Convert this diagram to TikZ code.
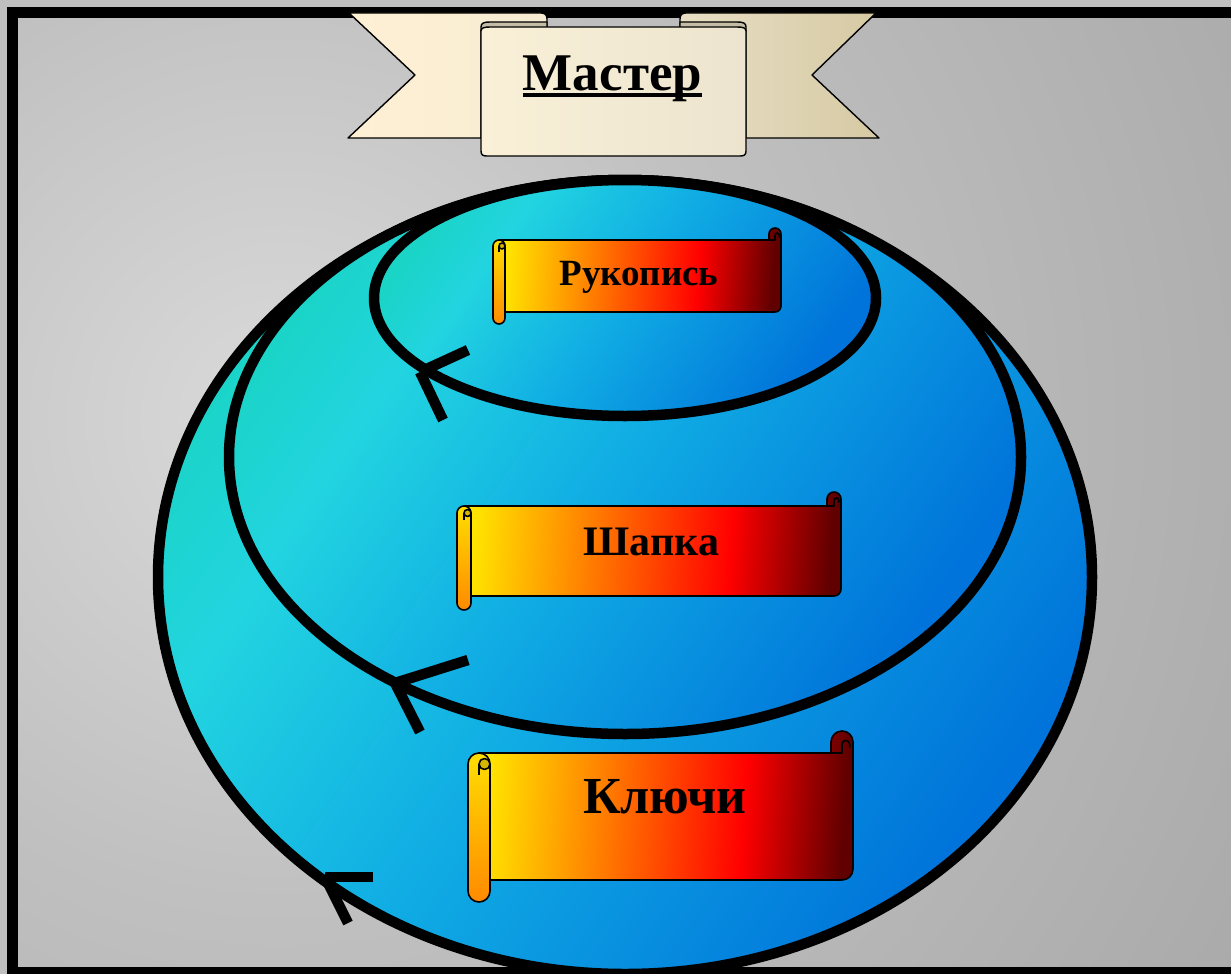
\documentclass[tikz,border=0pt]{standalone}
\usepackage{fontspec}
\setmainfont{Liberation Serif}
\usetikzlibrary{calc}

\definecolor{outgray}{RGB}{191,191,191}
\definecolor{bgA}{RGB}{218,218,218}
\definecolor{bgB}{RGB}{192,192,192}
\definecolor{bgC}{RGB}{170,170,170}
\definecolor{seaA}{RGB}{26,212,198}
\definecolor{seaB}{RGB}{34,212,224}
\definecolor{seaC}{RGB}{16,172,228}
\definecolor{seaD}{RGB}{0,116,218}
\definecolor{fireA}{RGB}{255,228,0}
\definecolor{fireB}{RGB}{255,140,0}
\definecolor{fireC}{RGB}{255,0,0}
\definecolor{fireD}{RGB}{96,0,0}
\definecolor{rollTop}{RGB}{255,222,0}
\definecolor{rollBot}{RGB}{255,138,0}
\definecolor{rollIn}{RGB}{212,184,0}
\definecolor{creamA}{RGB}{255,240,212}
\definecolor{creamB}{RGB}{246,236,210}
\definecolor{creamC}{RGB}{250,240,216}
\definecolor{creamD}{RGB}{236,228,206}
\definecolor{creamE}{RGB}{232,222,196}
\definecolor{creamF}{RGB}{214,202,164}
\definecolor{rollTan}{RGB}{196,188,166}

\pgfdeclareradialshading{bgrad}{\pgfpoint{0bp}{0bp}}{color(0bp)=(bgA); color(10.5bp)=(bgB); color(24bp)=(bgC); color(50bp)=(bgC)}
\pgfdeclarehorizontalshading{seashade}{100bp}{color(0bp)=(seaA); color(24bp)=(seaA); color(33bp)=(seaB); color(50bp)=(seaC); color(74bp)=(seaD); color(100bp)=(seaD)}
\pgfdeclarehorizontalshading{fireshade}{100bp}{color(0bp)=(fireA); color(25bp)=(fireA); color(39bp)=(fireB); color(61bp)=(fireC); color(75bp)=(fireD); color(100bp)=(fireD)}

\tikzset{
  ell/.style={draw=black, line width=10.5, shading=seashade, shading angle=-35},
  arrowline/.style={draw=black, line width=10.5, line cap=butt},
  scrollline/.style={draw=black, line width=1.6, line join=round},
  bannerline/.style={draw=black, line width=1.4, line join=round},
  lbl/.style={font=\bfseries, anchor=base, inner sep=0pt, text=black}
}

\newcommand\drawscroll[5]{%
  \pgfmathsetmacro\qL{#1}\pgfmathsetmacro\qT{#2}%
  \pgfmathsetmacro\qR{#3}\pgfmathsetmacro\qB{#4}%
  \pgfmathsetmacro\qC{#5}\pgfmathsetmacro\qH{#5/2}\pgfmathsetmacro\qQ{#5/4}%
  \shadedraw[scrollline, shading=fireshade, shading angle=-4]
    (\qL+\qH,\qT+\qC) -- (\qR-\qC,\qT+\qC) -- (\qR-\qC,\qT+\qH)
    arc[start angle=180, end angle=360, radius=\qH]
    -- (\qR,\qB-\qC-\qH) arc[start angle=0, end angle=90, radius=\qH]
    -- (\qL+\qH,\qB-\qC) -- cycle;
  \draw[scrollline] (\qR-\qC,\qT+\qC) -- (\qR-\qH,\qT+\qC) -- (\qR-\qH,\qT+\qH+0.4*\qQ)
    arc[start angle=180, end angle=360, radius=0.7*\qQ] -- (\qR-\qH+1.4*\qQ,\qT+\qH+\qQ);
  \shadedraw[scrollline, top color=rollTop, bottom color=rollBot]
    (\qL,\qT+\qC+\qH) arc[start angle=180, end angle=360, radius=\qH]
    -- (\qL+\qC,\qB-\qH) arc[start angle=0, end angle=180, radius=\qH] -- cycle;
  \filldraw[scrollline, fill=rollIn] (\qL+3*\qQ,\qT+\qC+\qH) circle[radius=\qQ];
  \draw[scrollline] (\qL+\qH,\qT+\qC+\qH) -- (\qL+\qH,\qT+2*\qC);
}

\begin{document}
\begin{tikzpicture}[x=1pt,y=-1pt]
\useasboundingbox (0,0) rectangle (1231,974);
\fill[outgray] (0,0) rectangle (1231,974);
\begin{scope}
  \clip (12,12) rectangle (1231,974);
  \shade[shading=bgrad] (280,420) circle[radius=1150];
\end{scope}
\draw[line width=11] (12.5,12.5) rectangle (1246,972.5);

% banner
\shadedraw[bannerline, left color=creamA, right color=creamB]
  (348,138) -- (415,75) -- (349,13) -- (541,13) .. controls (545,13) and (547,15) .. (547,19)
  -- (547,31) -- (481,31) -- (481,138) -- cycle;
\shadedraw[bannerline, left color=creamE, right color=creamF]
  (879,138) -- (812,75) -- (876,13) -- (686,13) .. controls (682,13) and (680,15) .. (680,19)
  -- (680,31) -- (746,31) -- (746,138) -- cycle;
\filldraw[bannerline, fill=rollTan]
  (481,31) -- (481,27) .. controls (481,23) and (484,22) .. (490,22) -- (547,22) -- (547,31) -- cycle;
\filldraw[bannerline, fill=rollTan]
  (746,31) -- (746,27) .. controls (746,23) and (743,22) .. (737,22) -- (680,22) -- (680,31) -- cycle;
\shadedraw[bannerline, left color=creamC, right color=creamD]
  (481,31) .. controls (481,28) and (484,27) .. (490,27) -- (737,27) .. controls (743,27) and (746,28) .. (746,31)
  -- (746,151) .. controls (746,155) and (744,156) .. (740,156) -- (487,156)
  .. controls (483,156) and (481,155) .. (481,151) -- cycle;
\node[lbl, font=\bfseries\fontsize{53}{60}\selectfont] (master) at (612.5,90) {Мастер};
\draw[line width=3.6] ([yshift=-5pt]master.base west) -- ([yshift=-5pt]master.base east);

% ellipses
\shadedraw[ell] (625,577) ellipse [x radius=467, y radius=397];
\shadedraw[ell] (625,457) ellipse [x radius=396, y radius=277];
\shadedraw[ell] (625,298) ellipse [x radius=251, y radius=118];

% arrow marks
\coordinate (t1) at (420,372); \coordinate (a1) at (468,350); \coordinate (b1) at (443,420);
\coordinate (t2) at (395,683); \coordinate (a2) at (468,660); \coordinate (b2) at (420,732);
\coordinate (t3) at (325,877); \coordinate (a3) at (373,877); \coordinate (b3) at (348,923);
\draw[arrowline] (t1) -- (a1); \draw[arrowline] (t1) -- (b1);
\draw[arrowline] (t2) -- (a2); \draw[arrowline] (t2) -- (b2);
\draw[arrowline] (t3) -- (a3); \draw[arrowline] (t3) -- (b3);

% scrolls
\drawscroll{493}{228}{781}{324}{12}
\node[lbl, font=\bfseries\fontsize{37}{42}\selectfont] (ruk) at (639,285) {Рукопись};
\drawscroll{457}{492}{841}{610}{14}
\node[lbl, font=\bfseries\fontsize{42}{48}\selectfont] (shap) at (651.5,555) {Шапка};
\drawscroll{468}{731}{853}{902}{22}
\node[lbl, font=\bfseries\fontsize{52}{58}\selectfont] (kl) at (665,813) {Ключи};
\end{tikzpicture}
\end{document}
